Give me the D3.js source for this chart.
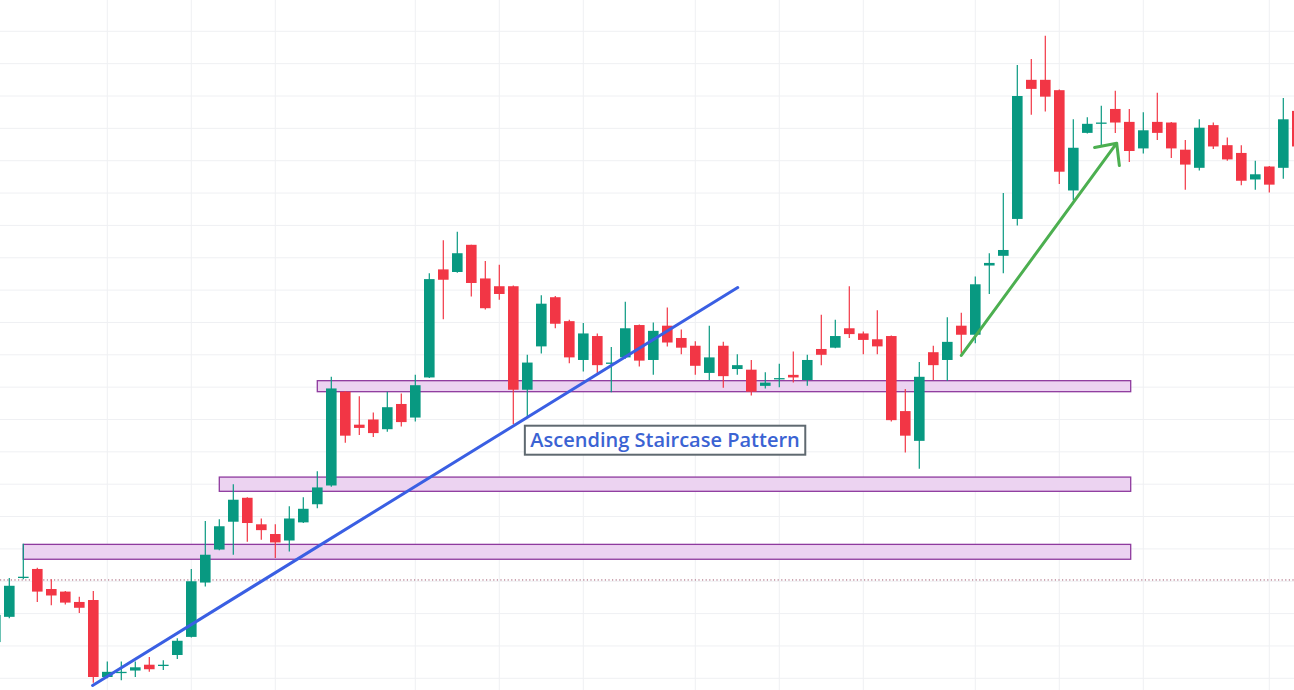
<!DOCTYPE html>
<html>
<head>
<meta charset="utf-8">
<script src="https://cdn.jsdelivr.net/npm/d3@7"></script>
<style>
  html, body { margin: 0; padding: 0; background: #ffffff; overflow: hidden; }
  svg { display: block; }
</style>
</head>
<body>
<div id="chart"></div>
<script>
"use strict";

// Candle data. Index 0 is the first full candle on the left.
const candleIndex = d3.range(-1, 93);
const opens = [
    105.6, 109.5, 115.6, 116.9, 113.8, 113.4, 111.8, 112.1, 100.2, 101.0,
    101.2, 102.1, 102.1, 103.6, 106.4, 114.8, 119.9, 124.2, 127.9, 123.8,
    122.3, 121.3, 124.1, 126.9, 129.8, 144.3, 139.2, 140.0, 138.5, 142.4,
    140.3, 146.5, 163.2, 162.8, 167.0, 161.8, 160.6, 160.6, 144.6, 151.3,
    158.9, 155.2, 149.2, 152.9, 148.8, 149.6, 154.6, 149.2, 154.5, 152.6,
    151.4, 147.2, 151.4, 147.8, 147.7, 145.2, 146.4, 146.9, 146.1, 150.9,
    151.1, 154.1, 153.3, 152.4, 152.9, 141.3, 136.7, 150.4, 149.2, 154.5,
    153.1, 163.8, 165.3, 171.0, 192.5, 192.5, 190.9, 175.4, 184.3, 185.9,
    188.0, 186.0, 181.9, 186.0, 185.9, 181.7, 178.9, 185.5, 182.4, 181.2,
    177.1, 179.1, 178.9, 187.7
];
const highs = [
    110.2, 115.5, 120.8, 117.1, 115.3, 113.5, 112.6, 113.5, 102.6, 102.6,
    102.6, 103.3, 102.8, 106.2, 116.9, 124.3, 124.6, 130.0, 128.0, 124.7,
    123.8, 126.6, 128.0, 132.0, 146.6, 144.4, 143.6, 141.1, 144.3, 144.0,
    146.9, 162.6, 167.7, 169.0, 167.0, 164.5, 163.9, 160.7, 150.0, 159.2,
    159.1, 155.4, 154.9, 153.3, 151.2, 158.2, 154.7, 155.0, 157.3, 153.9,
    152.1, 154.5, 152.0, 150.1, 149.2, 147.3, 148.6, 150.5, 150.0, 156.2,
    155.4, 160.6, 153.6, 156.9, 153.0, 144.7, 148.9, 151.4, 155.8, 156.5,
    162.1, 165.7, 175.0, 194.8, 195.7, 199.3, 191.0, 186.4, 186.7, 188.5,
    190.8, 188.0, 187.5, 190.5, 186.0, 183.2, 186.4, 185.9, 183.6, 182.4,
    180.0, 179.2, 189.7, 188.6
];
const lows = [
    105.1, 109.3, 115.3, 111.8, 111.3, 111.4, 110.1, 99.3, 100.0, 99.7,
    100.2, 101.0, 101.3, 103.0, 106.3, 114.2, 119.8, 119.1, 121.1, 121.4,
    118.6, 119.6, 124.0, 126.3, 129.6, 136.4, 137.6, 137.3, 138.1, 138.9,
    139.7, 146.4, 155.5, 162.7, 159.0, 157.0, 158.5, 139.3, 140.4, 150.2,
    154.1, 148.7, 147.4, 146.9, 144.2, 149.4, 148.2, 146.9, 151.3, 150.1,
    146.9, 146.1, 144.9, 146.9, 143.7, 144.8, 145.0, 145.7, 145.2, 148.4,
    151.0, 152.6, 150.1, 150.1, 139.7, 134.9, 132.4, 146.1, 146.0, 150.2,
    151.8, 159.4, 162.6, 170.0, 187.1, 187.6, 176.4, 173.9, 184.2, 182.1,
    184.3, 179.8, 181.1, 183.2, 180.4, 175.5, 178.5, 181.8, 180.0, 176.2,
    175.5, 175.1, 177.2, 181.7
];
const closes = [
    109.8, 114.3, 115.7, 113.4, 112.8, 111.7, 110.9, 100.2, 101.0, 101.0,
    101.7, 101.4, 102.1, 105.8, 115.0, 119.1, 123.5, 127.6, 124.0, 122.9,
    121.0, 124.7, 126.2, 129.5, 144.8, 137.5, 138.7, 137.9, 141.9, 139.6,
    145.3, 161.7, 161.6, 165.7, 161.1, 157.2, 159.4, 144.6, 148.8, 157.9,
    154.8, 149.6, 153.3, 148.4, 148.8, 154.1, 149.1, 153.7, 151.9, 151.1,
    148.3, 149.6, 146.7, 148.4, 144.3, 145.7, 146.4, 146.5, 149.2, 150.0,
    152.9, 153.2, 152.3, 151.3, 139.9, 137.5, 146.6, 148.4, 152.0, 153.1,
    160.9, 164.2, 166.2, 190.0, 191.1, 189.9, 178.3, 182.0, 185.7, 185.9,
    185.9, 181.5, 184.7, 184.3, 181.9, 179.4, 185.1, 182.2, 180.2, 176.9,
    177.9, 176.3, 186.4, 182.2
];

// Vertical grid lines sit on these candles (date ticks).
const gridIndex = [7, 13, 19, 29, 35, 41, 49, 55, 61, 69, 75, 81, 90];
const gridPrices = d3.range(85, 216, 5);

// Staircase support zones.
const zoneStart = [1, 15, 22];
const zoneEnd = [80.1, 80.1, 80.1];
const zoneTop = [120.7, 131.1, 146.0];
const zoneBottom = [118.4, 128.9, 144.3];

// Drawings.
const trendIndex = [5.95, 52.03];
const trendPrice = [98.9, 160.4];
const arrowIndex = [68, 79.1];
const arrowPrice = [149.9, 182.7];
const labelIndex = 46.84;
const labelPrice = 136.8;
const labelText = "Ascending Staircase Pattern";
const refPrice = 115.2;

const width = 1294, height = 690;
const upColor = "#089981", downColor = "#f23645";

let svg = d3.select("#chart").append("svg")
    .attr("width", width)
    .attr("height", height);

let x = d3.scaleLinear().domain([0, 91]).range([9.3, 1283.3]);
let y = d3.scaleLinear().domain([100, 200]).range([678.3, 31.3]);

let candles = candleIndex.map((idx, k) => ({
    i: idx, o: opens[k], h: highs[k], l: lows[k], c: closes[k]
}));

// Grid.
let grid = svg.append("g").attr("class", "grid");
grid.selectAll(".hgrid").data(gridPrices).enter().append("line")
    .attr("class", "hgrid")
    .attr("x1", 0).attr("x2", width)
    .attr("y1", d => y(d)).attr("y2", d => y(d))
    .style("stroke", "#eff0f3")
    .style("stroke-width", "1px");
grid.selectAll(".vgrid").data(gridIndex).enter().append("line")
    .attr("class", "vgrid")
    .attr("x1", d => x(d)).attr("x2", d => x(d))
    .attr("y1", 0).attr("y2", height)
    .style("stroke", "#eff0f3")
    .style("stroke-width", "1px");

// Reference price line (dotted).
svg.append("line")
    .attr("x1", 0).attr("x2", width)
    .attr("y1", y(refPrice)).attr("y2", y(refPrice))
    .style("stroke", "#a0566e")
    .style("stroke-width", "1px")
    .style("stroke-dasharray", "1.2,2.4");

// Zones.
svg.selectAll(".zone").data(zoneStart).enter().append("rect")
    .attr("class", "zone")
    .attr("x", (d, k) => x(d))
    .attr("y", (d, k) => y(zoneTop[k]))
    .attr("width", (d, k) => x(zoneEnd[k]) - x(d))
    .attr("height", (d, k) => y(zoneBottom[k]) - y(zoneTop[k]))
    .style("fill", "#ecd3f1")
    .style("stroke", "#8e3a9e")
    .style("stroke-width", "1.3px");

// Candles.
let bodyW = 10.6;
let g = svg.append("g").attr("class", "candles");
let c = g.selectAll(".candle").data(candles).enter().append("g")
    .attr("class", "candle");
c.append("line")
    .attr("x1", d => x(d.i)).attr("x2", d => x(d.i))
    .attr("y1", d => y(d.h)).attr("y2", d => y(d.l))
    .style("stroke", d => d.c >= d.o ? upColor : downColor)
    .style("stroke-width", "1.2px");
c.append("rect")
    .attr("x", d => x(d.i) - bodyW / 2)
    .attr("width", bodyW)
    .attr("y", d => y(Math.max(d.o, d.c)))
    .attr("height", d => Math.max(1.3, Math.abs(y(d.o) - y(d.c))))
    .style("fill", d => d.c >= d.o ? upColor : downColor);

// Trend line.
svg.append("line")
    .attr("x1", x(trendIndex[0])).attr("y1", y(trendPrice[0]))
    .attr("x2", x(trendIndex[1])).attr("y2", y(trendPrice[1]))
    .style("stroke", "#3a5fe3")
    .style("stroke-width", "3px")
    .style("stroke-linecap", "round");

// Arrow.
let ax0 = x(arrowIndex[0]), ay0 = y(arrowPrice[0]);
let ax1 = x(arrowIndex[1]), ay1 = y(arrowPrice[1]);
let back = Math.atan2(ay0 - ay1, ax0 - ax1);
let headLen = 22.5, headAng = 43 * Math.PI / 180;
let arrowPath = d3.path();
arrowPath.moveTo(ax0, ay0);
arrowPath.lineTo(ax1, ay1);
arrowPath.moveTo(ax1 + headLen * Math.cos(back + headAng), ay1 + headLen * Math.sin(back + headAng));
arrowPath.lineTo(ax1, ay1);
arrowPath.lineTo(ax1 + headLen * Math.cos(back - headAng), ay1 + headLen * Math.sin(back - headAng));
svg.append("path")
    .attr("d", arrowPath.toString())
    .style("fill", "none")
    .style("stroke", "#4caf50")
    .style("stroke-width", "3px")
    .style("stroke-linecap", "round")
    .style("stroke-linejoin", "round");

// Label with box.
let lg = svg.append("g").attr("class", "label");
let box = lg.append("rect");
let txt = lg.append("text")
    .attr("x", x(labelIndex))
    .attr("y", y(labelPrice) + 7)
    .style("text-anchor", "middle")
    .style("font-family", "'Open Sans', 'Noto Sans', sans-serif")
    .style("font-size", "20px")
    .style("font-weight", "600")
    .style("fill", "#3b63d3")
    .text(labelText);
let bb = txt.node().getBBox();
box.attr("x", bb.x - 5.5)
    .attr("width", bb.width + 11)
    .attr("y", y(labelPrice) - 14.5)
    .attr("height", 29)
    .style("fill", "#ffffff")
    .style("stroke", "#5f6970")
    .style("stroke-width", "2px");
</script>
</body>
</html>
